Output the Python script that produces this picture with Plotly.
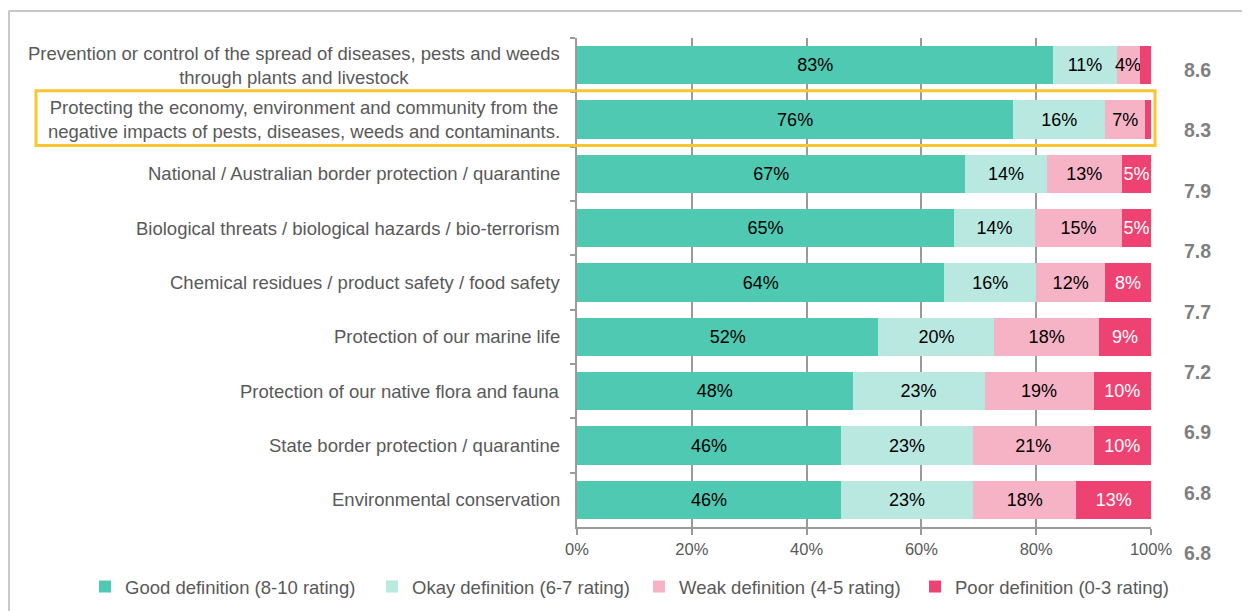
import plotly.graph_objects as go

categories = [
    "Prevention or control of the spread of diseases, pests and weeds<br>through plants and livestock",
    "Protecting the economy, environment and community from the<br>negative impacts of pests, diseases, weeds and contaminants.",
    "National / Australian border protection / quarantine",
    "Biological threats / biological hazards / bio-terrorism",
    "Chemical residues / product safety / food safety",
    "Protection of our marine life",
    "Protection of our native flora and fauna",
    "State border protection / quarantine",
    "Environmental conservation",
]
good = [83, 76, 67, 65, 64, 52, 48, 46, 46]
okay = [11, 16, 14, 14, 16, 20, 23, 23, 23]
weak = [4, 7, 13, 15, 12, 18, 19, 21, 18]
poor = [2, 1, 5, 5, 8, 9, 10, 10, 13]
scores = ["8.6", "8.3", "7.9", "7.8", "7.7", "7.2", "6.9", "6.8", "6.8"]
x_ticks = [0, 20, 40, 60, 80, 100]
highlight_index = 1

series = [
    ("Good definition (8-10 rating)", good, "#4FC9B2", "black", 0),
    ("Okay definition (6-7 rating)", okay, "#B9E8E0", "black", 0),
    ("Weak definition (4-5 rating)", weak, "#F6B3C5", "black", 0),
    ("Poor definition (0-3 rating)", poor, "#EE4372", "white", 3),
]
legend_text_px = [125, 412, 679, 955]

OFF = 8  # page body margin
W, H = 1250 - OFF, 611 - OFF
L, R, T, B = 577 - OFF, 99, 38 - OFF, 84
pw, ph = W - L - R, H - T - B
FONT = "Liberation Sans, Arial"

def px_x(px):
    return (px - OFF - L) / pw

def px_y(py):
    return (H - B - (py - OFF)) / ph

fig = go.Figure()
legend_layouts = {}
for k, (name, vals, color, tcolor, minlabel) in enumerate(series):
    texts = [f"{v}%" if v > minlabel else "" for v in vals]
    lg = "legend" if k == 0 else f"legend{k + 1}"
    fig.add_trace(go.Bar(
        y=categories, x=vals, name=name, orientation="h",
        marker=dict(color=color, line=dict(width=0)),
        text=texts, textposition="inside", insidetextanchor="middle",
        constraintext="none", textangle=0,
        textfont=dict(family=FONT, size=18, color=tcolor),
        hoverinfo="skip", legend=lg,
    ))
    legend_layouts[lg] = dict(
        orientation="h", x=px_x(legend_text_px[k] - 40), y=px_y(587),
        xanchor="left", yanchor="middle", bgcolor="rgba(0,0,0,0)",
        font=dict(family=FONT, size=18.5, color="#595959"), itemwidth=30,
    )

annotations = []
for c in categories:
    annotations.append(dict(
        x=px_x(562), y=c, xref="paper", yref="y", text=c, showarrow=False,
        xanchor="right", yanchor="middle", align="center",
        font=dict(family=FONT, size=18.5, color="#595959"),
    ))
for i, s in enumerate(scores):
    py = 70 + i * (553 - 70) / (len(scores) - 1)
    annotations.append(dict(
        x=px_x(1197), y=px_y(py), xref="paper", yref="paper", text=f"<b>{s}</b>",
        showarrow=False, xanchor="center", yanchor="middle",
        font=dict(family=FONT, size=19.5, color="#7F7F7F"),
    ))

shapes = [
    dict(type="line", xref="paper", yref="paper", x0=px_x(8.5), x1=px_x(1260),
         y0=px_y(11), y1=px_y(11), line=dict(color="#C8C8C8", width=2)),
    dict(type="line", xref="paper", yref="paper", x0=px_x(9), x1=px_x(9),
         y0=px_y(11), y1=px_y(620), line=dict(color="#C8C8C8", width=2)),
    dict(type="rect", xref="paper", yref="y", x0=px_x(36), x1=px_x(1155),
         y0=highlight_index - 0.53, y1=highlight_index + 0.48,
         line=dict(color="#F9C532", width=3), fillcolor="rgba(0,0,0,0)", layer="above"),
]

fig.update_layout(
    width=W, height=H, barmode="stack", barnorm="percent", bargap=0.30,
    margin=dict(l=L, r=R, t=T, b=B, pad=0, autoexpand=False),
    plot_bgcolor="white", paper_bgcolor="white",
    font=dict(family=FONT, size=16, color="#595959"),
    xaxis=dict(range=[0, 100], tickvals=x_ticks, ticktext=[f"{v}%" for v in x_ticks],
               showgrid=True, gridcolor="#9A9A9A", gridwidth=1.5,
               showline=True, linecolor="#9A9A9A", linewidth=1.5,
               ticks="outside", ticklen=6, tickcolor="#9A9A9A", tickwidth=1.5,
               tickfont=dict(size=16.5, color="#595959"), zeroline=False, fixedrange=True),
    yaxis=dict(categoryorder="array", categoryarray=categories, autorange="reversed",
               showticklabels=False, showline=True, linecolor="#9A9A9A", linewidth=1.5,
               ticks="outside", tickson="boundaries", ticklen=5, tickcolor="#9A9A9A",
               tickwidth=1.5, showgrid=False, fixedrange=True),
    annotations=annotations, shapes=shapes, showlegend=True,
    **legend_layouts,
)

fig.write_html("out.html")
